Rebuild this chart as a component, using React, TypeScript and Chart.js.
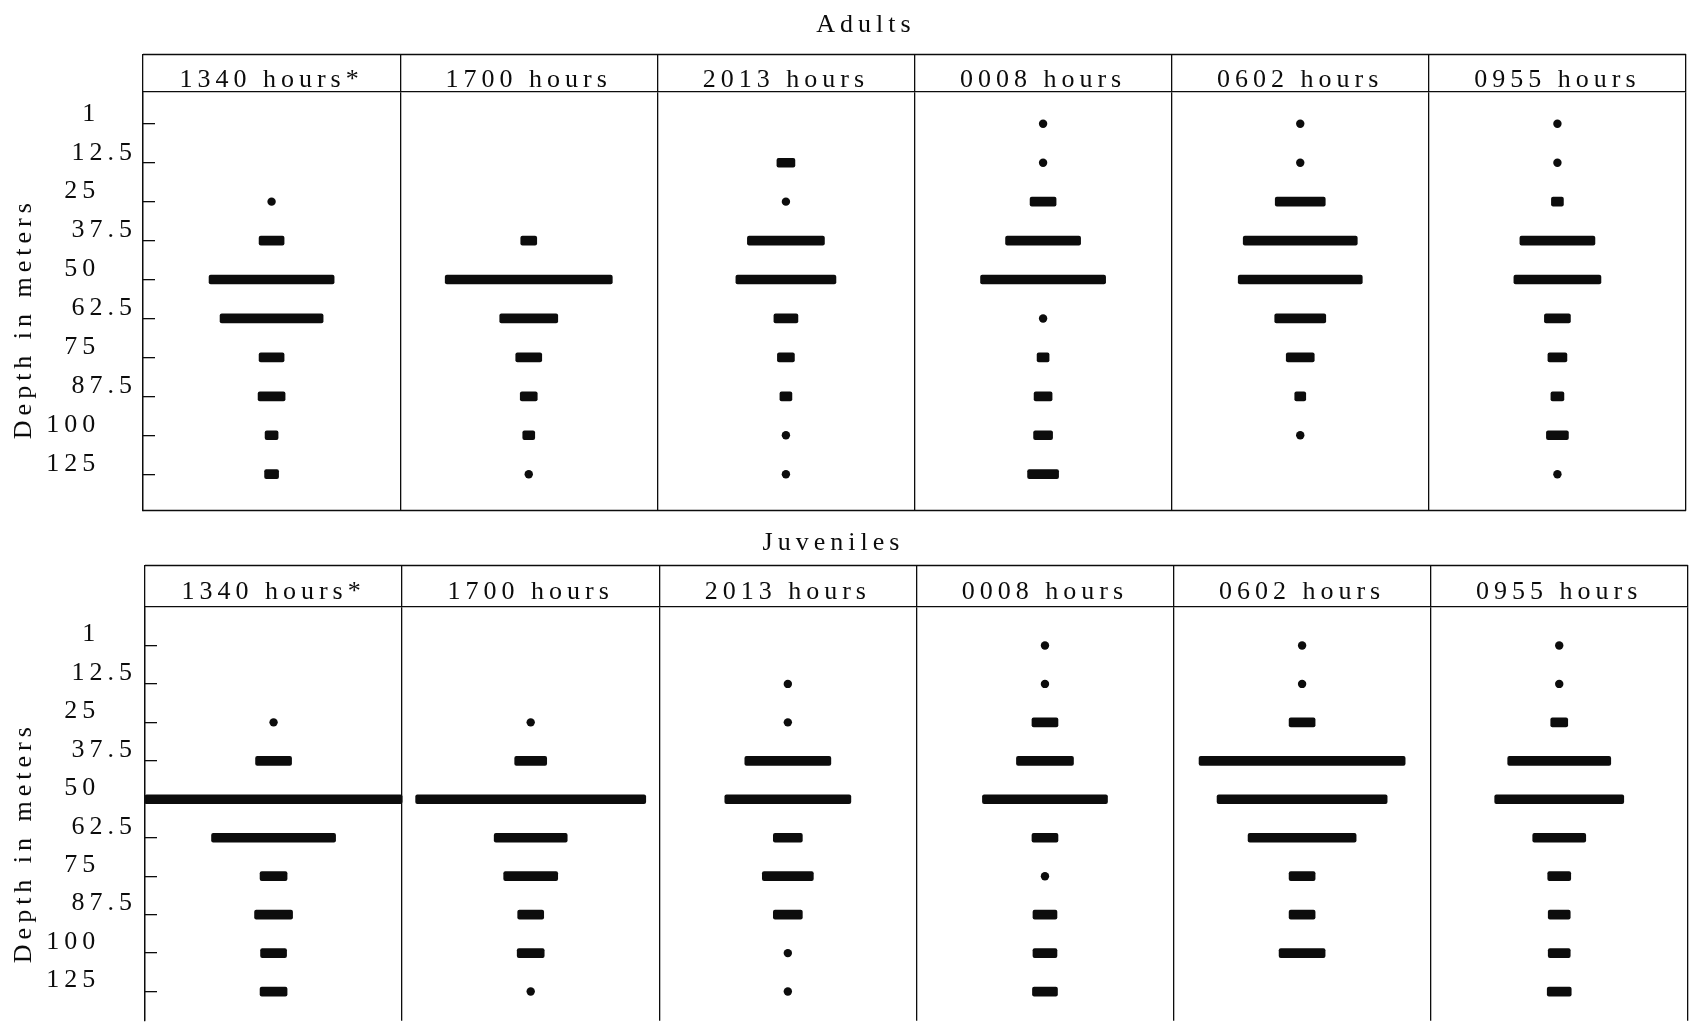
import { useEffect, useRef } from 'react';
import { Chart, registerables } from 'chart.js';

Chart.register(...registerables);

// ---- data ----
const DEPTHS = ['1', '12.5', '25', '37.5', '50', '62.5', '75', '87.5', '100', '125'];
const TIMES = ['1340 hours*', '1700 hours', '2013 hours', '0008 hours', '0602 hours', '0955 hours'];
const Y_TITLE = 'Depth in meters';

// relative abundance; one column spans COLUMN_SPAN units. 0 = trace (dot), null = none
const COLUMN_SPAN = 257;

const ADULT_1340 = [null, null, 0, 25, 125, 103, 25, 27, 13, 14];
const ADULT_1700 = [null, null, null, 16, 167, 58, 26, 17, 12, 0];
const ADULT_2013 = [null, 18, 0, 77, 100, 24, 17, 12, 0, 0];
const ADULT_0008 = [0, 0, 26, 75, 125, 0, 12, 18, 19, 31];
const ADULT_0602 = [0, 0, 50, 114, 124, 51, 28, 11, 0, null];
const ADULT_0955 = [0, 0, 12, 75, 87, 26, 19, 13, 22, 0];

const JUV_1340 = [null, null, 0, 36, 257, 124, 27, 38, 26, 27];
const JUV_1700 = [null, null, 0, 32, 230, 73, 54, 26, 27, 0];
const JUV_2013 = [null, 0, 0, 86, 126, 29, 51, 29, 0, 0];
const JUV_0008 = [0, 0, 26, 57, 125, 26, 0, 24, 24, 25];
const JUV_0602 = [0, 0, 26, 206, 170, 108, 26, 26, 46, null];
const JUV_0955 = [0, 0, 17, 103, 129, 53, 23, 22, 22, 24];

const ADULTS = [ADULT_1340, ADULT_1700, ADULT_2013, ADULT_0008, ADULT_0602, ADULT_0955];
const JUVENILES = [JUV_1340, JUV_1700, JUV_2013, JUV_0008, JUV_0602, JUV_0955];

// ---- style ----
const FONT = "'Liberation Serif', 'Times New Roman', serif";
const FONT_SIZE = 26;
const INK = '#0c0c0c';
const NB = '\u00A0';

const spacingPlugin = {
  id: 'spacing',
  beforeDraw(chart: any) {
    chart.ctx.letterSpacing = '5px';
  },
};

const framePlugin = {
  id: 'frame',
  afterDraw(chart: any, _args: any, opts: any) {
    const { ctx, chartArea } = chart;
    const xs = chart.scales.x;
    ctx.save();
    ctx.strokeStyle = INK;
    ctx.lineWidth = 1.3;
    ctx.beginPath();
    ctx.moveTo(xs.left, Math.round(xs.top) + 0.5);
    ctx.lineTo(xs.right, Math.round(xs.top) + 0.5);
    if (opts && opts.bottom) {
      ctx.moveTo(chartArea.left, Math.round(chartArea.bottom) - 0.5);
      ctx.lineTo(chartArea.right, Math.round(chartArea.bottom) - 0.5);
    }
    ctx.stroke();
    ctx.restore();
  },
};

// decimal-align whole-number depth labels with the ".5" ones
function depthLabel(v: number) {
  const s = DEPTHS[v];
  if (s === undefined) return '';
  return s.includes('.') ? s : s + '\u2008\u2007\u200A';
}

function buildDatasets(columns: (number | null)[][]) {
  const bars: any[] = [];
  const dots: any[] = [];
  columns.forEach((col, c) => {
    col.forEach((v, r) => {
      if (v === null) return;
      const mid = c + 0.5;
      if (v === 0) dots.push({ x: mid, y: r });
      else {
        const half = v / COLUMN_SPAN / 2;
        bars.push({ x: [mid - half, mid + half], y: r });
      }
    });
  });
  return [
    {
      type: 'bar',
      indexAxis: 'y',
      xAxisID: 'xv',
      yAxisID: 'y',
      data: bars,
      backgroundColor: INK,
      borderWidth: 0,
      barThickness: 9,
      borderRadius: 2,
      borderSkipped: false,
      grouped: false,
    },
    {
      type: 'scatter',
      xAxisID: 'xv',
      yAxisID: 'y',
      data: dots,
      pointRadius: 4.2,
      pointHoverRadius: 4.2,
      pointStyle: 'circle',
      backgroundColor: INK,
      borderWidth: 0,
      showLine: false,
    },
  ];
}

type PanelCfg = {
  title: string;
  columns: (number | null)[][];
  height: number;
  titlePadTop: number;
  titlePadBottom: number;
  headerHeight: number;
  headerPad: number;
  yMin: number;
  yMax: number;
  axisWidth: number;
  padRight: number;
  padBottom: number;
  labelOffset: number;
  labelPad: number;
  yTitle: string;
  bottomLine: boolean;
};

// title line box = FONT_SIZE * 1.2 = 31.2
const ADULT_PANEL: PanelCfg = {
  title: NB + NB + NB + NB + 'Adults',
  columns: ADULTS,
  height: 515,
  titlePadTop: 9.4,
  titlePadBottom: 13.4,
  headerHeight: 38,
  headerPad: -41.6,
  yMin: -0.816,
  yMax: 9.94,
  axisWidth: 143,
  padRight: 6,
  padBottom: 4,
  labelOffset: -10,
  labelPad: 18,
  yTitle: Y_TITLE + NB + NB + NB,
  bottomLine: true,
};

const JUVENILE_PANEL: PanelCfg = {
  title: 'Juveniles' + NB + NB,
  columns: JUVENILES,
  height: 510,
  titlePadTop: 12.4,
  titlePadBottom: 6.4,
  headerHeight: 42,
  headerPad: -43.1,
  yMin: -1.0,
  yMax: 9.76,
  axisWidth: 145,
  padRight: 2,
  padBottom: 0,
  labelOffset: -11,
  labelPad: 20,
  yTitle: Y_TITLE + NB + NB + NB + NB + NB,
  bottomLine: false,
};

function buildConfig(p: PanelCfg): any {
  const font = { family: FONT, size: FONT_SIZE, weight: 'normal', lineHeight: 1.2 };
  return {
    type: 'bar',
    data: { labels: TIMES, datasets: buildDatasets(p.columns) },
    plugins: [spacingPlugin, framePlugin],
    options: {
      responsive: false,
      animation: false,
      events: [],
      layout: { padding: { left: 0, right: p.padRight, top: 0, bottom: p.padBottom } },
      plugins: {
        legend: { display: false },
        tooltip: { enabled: false },
        title: {
          display: true,
          text: p.title,
          color: INK,
          font,
          padding: { top: p.titlePadTop, bottom: p.titlePadBottom },
        },
        frame: { bottom: p.bottomLine },
      },
      scales: {
        x: {
          type: 'category',
          position: 'top',
          min: 0,
          max: TIMES.length - 1,
          offset: true,
          grid: {
            display: true,
            drawOnChartArea: true,
            drawTicks: true,
            tickLength: p.headerHeight,
            color: INK,
            lineWidth: 1.3,
            offset: true,
          },
          border: { display: true, color: INK, width: 1.3 },
          ticks: {
            autoSkip: false,
            maxRotation: 0,
            minRotation: 0,
            padding: p.headerPad,
            color: INK,
            font,
          },
          afterFit: (s: any) => {
            s.height = p.headerHeight;
            s.paddingLeft = 0;
            s.paddingRight = 0;
            s.paddingTop = 0;
            s.paddingBottom = 0;
          },
        },
        xv: {
          type: 'linear',
          min: 0,
          max: TIMES.length,
          display: false,
          offset: false,
          beginAtZero: false,
          grace: 0,
          grid: { offset: false },
        },
        y: {
          type: 'linear',
          position: 'left',
          reverse: true,
          min: p.yMin,
          max: p.yMax,
          offset: false,
          beginAtZero: false,
          grace: 0,
          afterBuildTicks: (s: any) => {
            s.ticks = DEPTHS.map((_, i) => ({ value: i }));
          },
          ticks: {
            autoSkip: false,
            callback: (v: any) => depthLabel(Number(v)),
            padding: p.labelPad,
            labelOffset: p.labelOffset,
            color: INK,
            font,
          },
          grid: {
            display: true,
            offset: false,
            drawOnChartArea: false,
            drawTicks: true,
            tickLength: -12,
            color: INK,
            lineWidth: 1.3,
          },
          border: { display: true, color: INK, width: 1.3 },
          title: {
            display: true,
            text: p.yTitle,
            color: INK,
            font,
            padding: { top: 8.4, bottom: 0 },
          },
          afterFit: (s: any) => {
            s.width = p.axisWidth;
            s.paddingTop = 0;
            s.paddingBottom = 0;
            s.paddingLeft = 0;
            s.paddingRight = 0;
          },
        },
      },
    },
  };
}

function Panel({ cfg }: { cfg: PanelCfg }) {
  const ref = useRef<HTMLCanvasElement>(null);
  useEffect(() => {
    if (!ref.current) return;
    const chart = new Chart(ref.current, buildConfig(cfg));
    return () => chart.destroy();
  }, [cfg]);
  return (
    <canvas
      ref={ref}
      width={1692}
      height={cfg.height}
      style={{ display: 'block', width: 1692, height: cfg.height }}
    />
  );
}

export default function App() {
  return (
    <div
      style={{
        position: 'absolute',
        left: 0,
        top: 0,
        width: 1692,
        height: 1025,
        overflow: 'hidden',
        background: '#ffffff',
      }}
    >
      <Panel cfg={ADULT_PANEL} />
      <Panel cfg={JUVENILE_PANEL} />
    </div>
  );
}
